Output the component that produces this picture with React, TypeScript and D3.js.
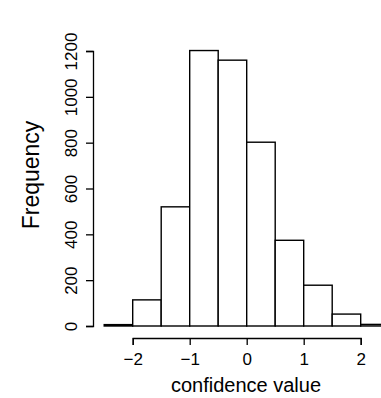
import React, { useEffect, useRef } from "react";
import * as d3 from "d3";

// histogram bins (left edges), width 0.5
const binStarts = [-2.5, -2, -1.5, -1, -0.5, 0, 0.5, 1, 1.5, 2];
const counts = [6, 114, 520, 1202, 1160, 802, 374, 178, 52, 7];
const xTicks = [-2, -1, 0, 1, 2];
const yTicks = [0, 200, 400, 600, 800, 1000, 1200];
const binWidth = 0.5;

export default function App() {
  const ref = useRef<SVGSVGElement>(null);

  useEffect(() => {
    const width = 381;
    const height = 398;
    const font = "'Liberation Sans', Arial, Helvetica, sans-serif";

    const svg = d3.select(ref.current);
    svg.selectAll("*").remove();

    // scales
    const x = d3.scaleLinear().domain([-2, 2]).range([132.7, 360.7]);
    const y = d3.scaleLinear().domain([0, 1200]).range([326, 51]);

    // bars
    svg
      .append("g")
      .selectAll("rect")
      .data(binStarts)
      .enter()
      .append("rect")
      .attr("x", (d) => x(d))
      .attr("y", (d, i) => y(counts[i]))
      .attr("width", (d) => x(d + binWidth) - x(d))
      .attr("height", (d, i) => y(0) - y(counts[i]))
      .attr("fill", "white")
      .attr("stroke", "black")
      .attr("stroke-width", 1.4);

    // x axis
    const xAxis = d3.axisBottom(x).tickValues(xTicks).tickSize(7).tickPadding(3)
      .tickFormat((d) => String(d).replace("-", "\u2212"));
    const gx = svg.append("g").attr("transform", "translate(0,338)").call(xAxis);
    gx.select(".domain").attr("stroke", "black").attr("stroke-width", 1.3);
    gx.selectAll(".tick line").attr("stroke", "black").attr("stroke-width", 1.3);
    gx.selectAll(".tick text")
      .attr("fill", "black")
      .attr("font-size", 17)
      .attr("font-family", font)
      .attr("dy", null)
      .attr("y", 27);

    // y axis
    const yAxis = d3.axisLeft(y).tickValues(yTicks).tickSize(7).tickPadding(0)
      .tickFormat((d) => String(d));
    const gy = svg.append("g").attr("transform", "translate(93,0)").call(yAxis);
    gy.select(".domain").attr("stroke", "black").attr("stroke-width", 1.3);
    gy.selectAll(".tick line").attr("stroke", "black").attr("stroke-width", 1.3);
    gy.selectAll(".tick text")
      .attr("fill", "black")
      .attr("font-size", 17)
      .attr("font-family", font)
      .attr("x", null)
      .attr("dy", null)
      .attr("text-anchor", "middle")
      .attr("transform", "translate(-16,0) rotate(-90)");

    // axis titles
    svg
      .append("text")
      .attr("x", 246)
      .attr("y", 392)
      .attr("text-anchor", "middle")
      .attr("font-size", 20)
      .attr("font-family", font)
      .text("confidence value");

    svg
      .append("text")
      .attr("transform", "translate(39,175) rotate(-90)")
      .attr("text-anchor", "middle")
      .attr("font-size", 23)
      .attr("font-family", font)
      .text("Frequency");

    svg.attr("width", width).attr("height", height);
  }, []);

  return (
    <svg
      ref={ref}
      width={381}
      height={398}
      style={{ position: "fixed", left: 0, top: 0, background: "white" }}
    />
  );
}
